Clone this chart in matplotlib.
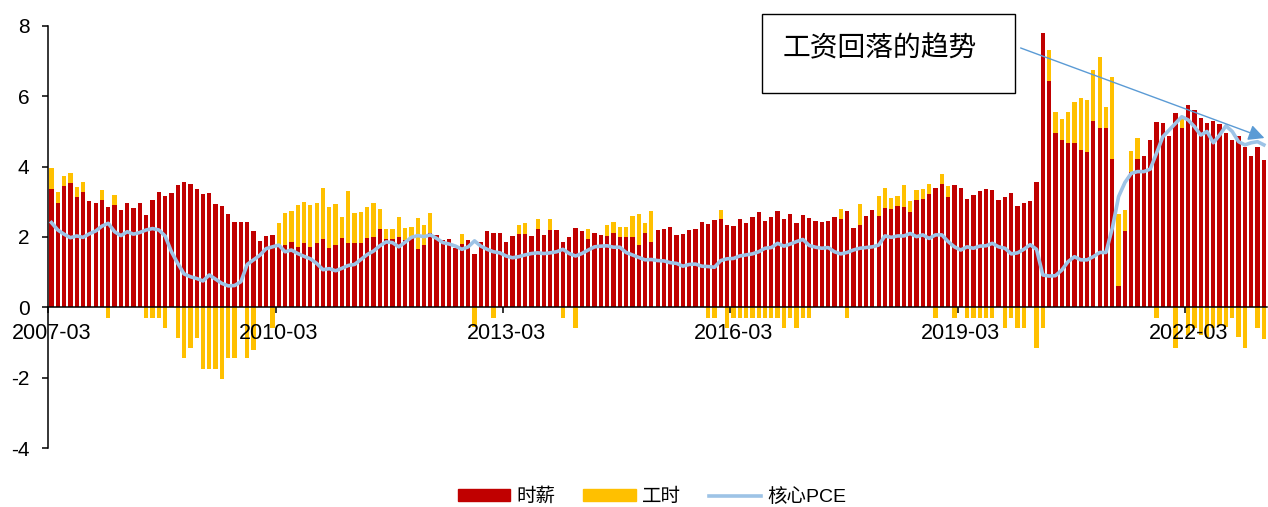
import matplotlib
matplotlib.use("Agg")
import matplotlib.pyplot as plt
import matplotlib.patches as mpatches
from matplotlib.lines import Line2D
import numpy as np
import pandas as pd

plt.rcParams['font.family'] = ['Liberation Sans', 'Noto Sans CJK SC']
plt.rcParams['axes.unicode_minus'] = False

# monthly, 2007-03 .. 2023-03
months = pd.date_range('2007-03-01', '2023-03-01', freq='MS').strftime('%Y-%m').tolist()

# 时薪 (hourly earnings contribution)
wage = [
    3.36, 2.98, 3.46, 3.53, 3.14, 3.28, 3.02, 2.98, 3.06, 2.85, 2.90, 2.76,
    2.98, 2.83, 2.97, 2.63, 3.04, 3.27, 3.16, 3.26, 3.48, 3.55, 3.51, 3.36,
    3.22, 3.25, 2.93, 2.89, 2.64, 2.42, 2.44, 2.44, 2.17, 1.89, 2.02, 2.05,
    1.77, 1.77, 1.86, 1.72, 1.82, 1.72, 1.82, 1.94, 1.68, 1.77, 1.98, 1.84,
    1.82, 1.84, 1.96, 2.01, 2.22, 1.94, 1.94, 1.99, 1.91, 1.99, 1.67, 1.77,
    2.10, 2.06, 1.91, 1.93, 1.70, 1.79, 1.91, 1.53, 1.86, 2.17, 2.11, 2.11,
    1.86, 2.03, 2.09, 2.09, 2.03, 2.22, 2.05, 2.20, 2.20, 1.86, 1.99, 2.27,
    2.16, 1.94, 2.10, 2.05, 2.03, 2.12, 1.99, 2.01, 2.01, 1.78, 2.12, 1.86,
    2.19, 2.22, 2.29, 2.05, 2.09, 2.20, 2.23, 2.44, 2.36, 2.47, 2.51, 2.33,
    2.32, 2.52, 2.41, 2.56, 2.71, 2.46, 2.58, 2.73, 2.52, 2.65, 2.41, 2.62,
    2.55, 2.46, 2.43, 2.45, 2.56, 2.51, 2.73, 2.27, 2.34, 2.61, 2.76, 2.59,
    2.82, 2.80, 2.88, 2.86, 2.72, 3.05, 3.07, 3.23, 3.39, 3.50, 3.14, 3.49,
    3.38, 3.07, 3.19, 3.30, 3.36, 3.35, 3.05, 3.15, 3.25, 2.89, 2.98, 3.01,
    3.56, 7.79, 6.44, 4.97, 4.76, 4.68, 4.68, 4.47, 4.42, 5.31, 5.11, 5.11,
    4.23, 0.62, 2.18, 3.86, 4.22, 4.31, 4.76, 5.26, 5.24, 4.88, 5.54, 5.11,
    5.74, 5.61, 5.37, 5.25, 5.31, 5.21, 4.95, 4.76, 4.87, 4.57, 4.30, 4.57,
    4.20,
]

# 工时 (hours contribution)
hours = [
    0.59, 0.29, 0.28, 0.30, 0.29, 0.28, 0.00, 0.00, 0.29, -0.29, 0.29, 0.00,
    0.00, 0.00, 0.00, -0.29, -0.29, -0.29, -0.58, 0.00, -0.88, -1.45, -1.17, -0.88,
    -1.76, -1.76, -1.76, -2.05, -1.45, -1.45, 0.00, -1.45, -1.20, 0.00, 0.00, -0.60,
    0.62, 0.90, 0.89, 1.20, 1.17, 1.19, 1.16, 1.46, 1.17, 1.17, 0.58, 1.47,
    0.87, 0.88, 0.88, 0.96, 0.58, 0.30, 0.30, 0.58, 0.36, 0.29, 0.87, 0.58,
    0.59, 0.00, 0.00, 0.00, 0.00, 0.29, 0.00, -0.55, 0.00, 0.00, -0.29, 0.00,
    0.00, 0.00, 0.24, 0.31, 0.00, 0.29, 0.00, 0.30, 0.00, -0.29, 0.00, -0.58,
    0.00, 0.28, 0.00, 0.00, 0.30, 0.31, 0.30, 0.28, 0.58, 0.87, 0.28, 0.88,
    0.00, 0.00, 0.00, 0.00, 0.00, 0.00, 0.00, 0.00, -0.29, -0.29, 0.27, -0.58,
    -0.29, -0.29, -0.29, -0.29, -0.29, -0.29, -0.29, -0.29, -0.58, -0.29, -0.58, -0.29,
    -0.29, 0.00, 0.00, 0.00, 0.00, 0.30, -0.29, 0.00, 0.60, 0.00, 0.00, 0.58,
    0.58, 0.30, 0.29, 0.61, 0.30, 0.29, 0.29, 0.27, -0.29, 0.29, 0.30, -0.29,
    0.00, -0.29, -0.29, -0.29, -0.29, -0.29, 0.00, -0.58, -0.29, -0.58, -0.58, 0.00,
    -1.17, -0.58, 0.88, 0.59, 0.59, 0.87, 1.16, 1.47, 1.47, 1.45, 2.02, 0.60,
    2.33, 2.02, 0.59, 0.59, 0.59, 0.00, 0.00, -0.29, 0.00, 0.00, -1.17, 0.31,
    -0.80, -0.60, -0.80, -0.85, -0.60, -0.50, -0.55, -0.30, -0.85, -1.17, 0.00, -0.60,
    -0.90,
]

# 核心PCE
core_pce = [
    2.41, 2.20, 2.08, 1.98, 2.03, 1.99, 2.09, 2.17, 2.31, 2.39, 2.15, 2.04,
    2.15, 2.08, 2.13, 2.20, 2.24, 2.20, 2.03, 1.58, 1.25, 0.95, 0.87, 0.82,
    0.75, 0.92, 0.80, 0.68, 0.61, 0.62, 0.73, 1.22, 1.35, 1.48, 1.67, 1.72,
    1.77, 1.58, 1.63, 1.53, 1.45, 1.38, 1.25, 1.07, 1.10, 1.04, 1.11, 1.19,
    1.22, 1.36, 1.50, 1.60, 1.75, 1.86, 1.84, 1.72, 1.85, 1.99, 2.04, 2.01,
    2.06, 1.96, 1.84, 1.80, 1.74, 1.65, 1.72, 1.89, 1.74, 1.65, 1.58, 1.55,
    1.46, 1.41, 1.44, 1.49, 1.53, 1.55, 1.53, 1.55, 1.58, 1.65, 1.53, 1.46,
    1.53, 1.63, 1.72, 1.74, 1.75, 1.71, 1.71, 1.56, 1.49, 1.42, 1.35, 1.36,
    1.33, 1.32, 1.27, 1.25, 1.17, 1.22, 1.23, 1.17, 1.16, 1.14, 1.33, 1.38,
    1.39, 1.46, 1.49, 1.52, 1.58, 1.68, 1.70, 1.82, 1.74, 1.80, 1.87, 1.93,
    1.76, 1.71, 1.68, 1.70, 1.58, 1.52, 1.56, 1.63, 1.68, 1.70, 1.72, 1.77,
    2.03, 1.99, 2.03, 2.03, 2.10, 2.01, 2.06, 1.96, 2.06, 2.06, 1.87, 1.72,
    1.63, 1.72, 1.68, 1.74, 1.75, 1.82, 1.72, 1.68, 1.52, 1.55, 1.65, 1.78,
    1.65, 0.92, 0.89, 0.90, 1.06, 1.30, 1.44, 1.35, 1.35, 1.44, 1.56, 1.56,
    2.25, 3.15, 3.55, 3.81, 3.86, 3.86, 3.93, 4.38, 4.85, 5.04, 5.23, 5.42,
    5.33, 5.14, 4.90, 5.00, 4.68, 4.90, 5.16, 5.00, 4.71, 4.62, 4.68, 4.71,
    4.62,
]

red = '#C00000'
yellow = '#FFC000'
blue = '#9DC3E6'

x = np.arange(len(months))
wage = np.array(wage)
hours = np.array(hours)
hours_bottom = np.where(hours > 0, wage, 0)

fig = plt.figure(figsize=(12.68, 5.07), dpi=100)
ax = fig.add_axes([48.3 / 1268, 1 - 448 / 507, (1267 - 48.3) / 1268, (448 - 26) / 507])

bw = 0.68
ax.bar(x, wage, width=bw, color=red, linewidth=0, zorder=1)
ax.bar(x, hours, width=bw, bottom=hours_bottom, color=yellow, linewidth=0, zorder=1)
ax.plot(x, core_pce, color=blue, lw=2.6, zorder=3, solid_joinstyle='round')

ax.set_xlim(-0.5, len(months) - 0.5)
ax.set_ylim(-4, 8)
ax.set_yticks(np.arange(-4, 9, 2))

for s in ['top', 'right']:
    ax.spines[s].set_visible(False)
ax.spines['bottom'].set_position(('data', 0))
ax.spines['left'].set_linewidth(1.1)
ax.spines['bottom'].set_linewidth(1.1)

# ticks at category boundaries, labels at category centres
step = 36
ax.set_xticks(np.arange(0, len(months), step) - 0.5)
ax.set_xticklabels([])
ax.set_xticks(np.arange(0, len(months), step), minor=True)
ax.set_xticklabels([months[i] for i in range(0, len(months), step)], minor=True)
ax.tick_params(axis='x', which='major', direction='out', length=4.5, width=1.1)
ax.tick_params(axis='x', which='minor', length=0, pad=11, labelsize=15.5)
ax.tick_params(axis='y', direction='out', length=4.5, width=1.1, pad=9, labelsize=15)

# legend
handles = [
    mpatches.Patch(color=red, label='时薪'),
    mpatches.Patch(color=yellow, label='工时'),
    Line2D([], [], color=blue, lw=2.6, label='核心PCE'),
]
fig.legend(handles=handles, loc='center', bbox_to_anchor=(652 / 1268, 1 - 497 / 507),
           ncol=3, frameon=False, fontsize=14, handlelength=2.7, handleheight=0.57,
           handletextpad=0.3, columnspacing=1.45)

# annotation box
fig.patches.append(mpatches.Rectangle((762 / 1268, 1 - 93 / 507), (1015 - 762) / 1268, (93 - 14) / 507,
                                      transform=fig.transFigure, fill=False, edgecolor='black', lw=1.0))
fig.text(783 / 1268, 1 - 48 / 507, '工资回落的趋势', fontsize=20, va='center', ha='left',
         family=['Noto Sans CJK SC'])

arrow = mpatches.FancyArrowPatch((1018 / 1268, 1 - 47 / 507), (1267 / 1268, 1 - 139 / 507),
                                 transform=fig.transFigure, arrowstyle='-|>', mutation_scale=24,
                                 color='#5B9BD5', lw=1.0, zorder=5)
fig.patches.append(arrow)

fig.savefig('out.png', dpi=100)
